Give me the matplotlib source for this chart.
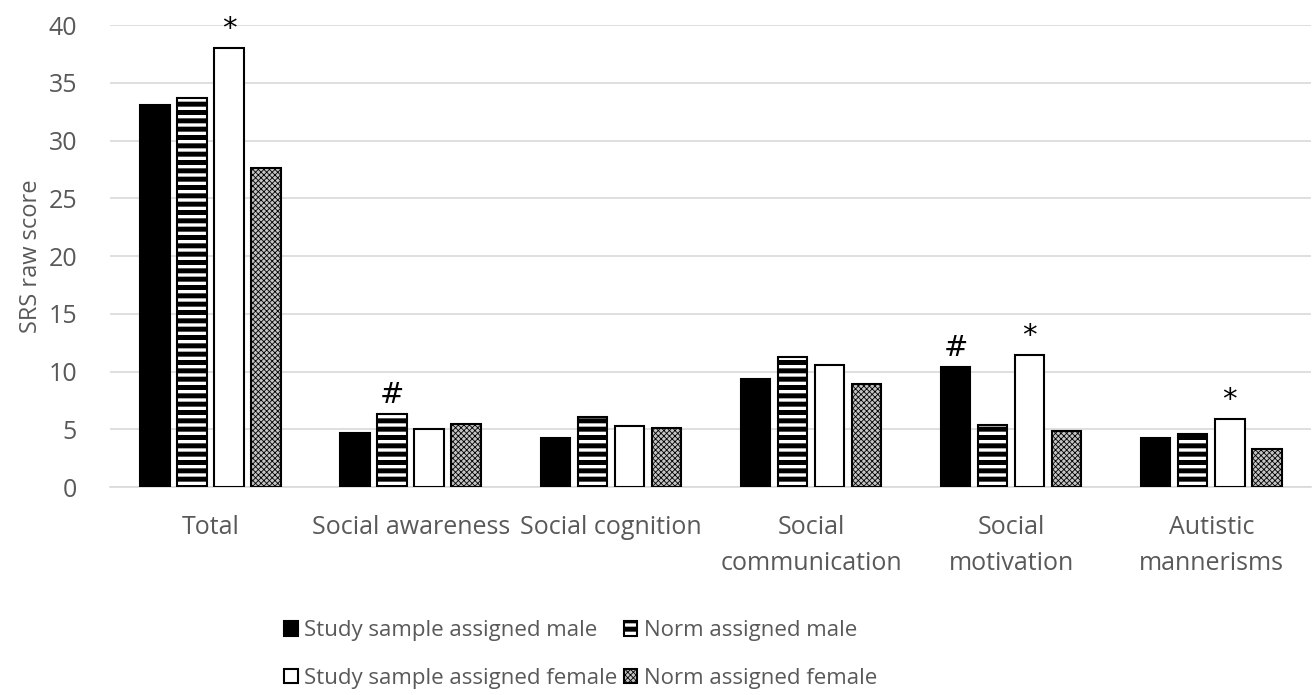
import matplotlib
matplotlib.use("Agg")
from matplotlib import pyplot as plt
from matplotlib.patches import Patch
import numpy as np

categories = ["Total", "Social awareness", "Social cognition",
              "Social\ncommunication", "Social\nmotivation", "Autistic\nmannerisms"]
study_male = [33.1, 4.7, 4.3, 9.4, 10.4, 4.3]
norm_male = [33.7, 6.3, 6.1, 11.3, 5.4, 4.6]
study_female = [38.0, 5.0, 5.3, 10.6, 11.4, 5.9]
norm_female = [27.6, 5.5, 5.1, 8.9, 4.9, 3.3]

# significance markers: (category index, series index, symbol)
marks = [(0, 2, "*"), (1, 1, "#"), (4, 0, "#"), (4, 2, "*"), (5, 2, "*")]

def thin_hatch(p):
    try:
        p.set_hatch_linewidth(0.6)
    except AttributeError:
        pass

def main():
    plt.rcParams['font.family'] = ['Open Sans', 'DejaVu Sans']
    plt.rcParams['hatch.linewidth'] = 3.6
    grey = '#595959'

    fig = plt.figure(figsize=(13.14, 6.95), dpi=100)
    ax = fig.add_axes([0.084, 0.299, 0.914, 0.665])

    series = [study_male, norm_male, study_female, norm_female]
    x = np.arange(len(categories))
    w = 0.147
    step = 0.185
    styles = [
        dict(facecolor='black', edgecolor='black', hatch=None),
        dict(facecolor='white', edgecolor='black', hatch='--'),
        dict(facecolor='white', edgecolor='black', hatch=None),
        dict(facecolor='#c4c4c4', edgecolor='black', hatch='xxxxxx'),
    ]
    names = ["Study sample assigned male", "Norm assigned male",
             "Study sample assigned female", "Norm assigned female"]

    all_bars = []
    for i, (vals, st) in enumerate(zip(series, styles)):
        pos = x + (i - 1.5) * step
        bars = ax.bar(pos, vals, width=w, linewidth=1.5, zorder=3, **st)
        if i == 3:
            for b in bars:
                thin_hatch(b)
        all_bars.append(bars)

    for ci, si, sym in marks:
        b = all_bars[si][ci]
        ax.text(b.get_x() + b.get_width() / 2, b.get_height() + 0.45, sym,
                ha='center', va='bottom', fontsize=21, color='black',
                family=['DejaVu Sans'])

    ax.set_ylim(0, 40)
    ax.set_xlim(-0.5, len(categories) - 0.5)
    ax.set_yticks(range(0, 41, 5))
    ax.set_xticks(x)
    ax.set_xticklabels(categories, linespacing=1.6)
    ax.tick_params(axis='both', length=0, labelsize=18, colors=grey)
    ax.tick_params(axis='x', pad=20)
    ax.tick_params(axis='y', pad=24)
    ax.yaxis.grid(True, color='#d9d9d9', linewidth=1.2, zorder=0)
    ax.set_axisbelow(True)
    for s in ['top', 'right', 'left']:
        ax.spines[s].set_visible(False)
    ax.spines['bottom'].set_color('#d9d9d9')
    ax.spines['bottom'].set_linewidth(1.2)
    ax.set_ylabel("SRS raw score", fontsize=17, color=grey, labelpad=4)

    handles = []
    for i, st in enumerate(styles):
        p = Patch(facecolor=st['facecolor'], edgecolor='black', hatch=st['hatch'], linewidth=1.5)
        handles.append(p)
    order = [0, 2, 1, 3]
    leg = fig.legend([handles[k] for k in order], [names[k] for k in order],
                     ncol=2, loc='center', bbox_to_anchor=(0.442, 0.058),
                     frameon=False, fontsize=16, handlelength=0.6, handleheight=0.6,
                     handletextpad=0.3, columnspacing=0.3, labelspacing=1.2)
    for t in leg.get_texts():
        t.set_color(grey)
    for lh in leg.legend_handles:
        if lh.get_hatch() == 'xxxxxx':
            thin_hatch(lh)

    fig.savefig("out.png", dpi=100)

if __name__ == "__main__":
    main()
